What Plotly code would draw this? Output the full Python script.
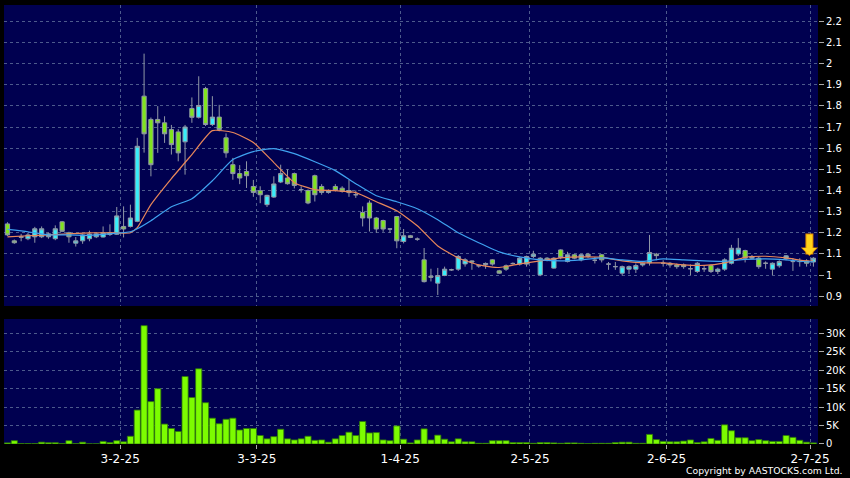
import plotly.graph_objects as go

# ---- data (candle index 0 = first trading day shown) ----
opens = [1.242, 1.162, 1.182, 1.172, 1.181, 1.181, 1.181, 1.172, 1.252, 1.200,
         1.151, 1.162, 1.172, 1.181, 1.180, 1.200, 1.193, 1.230, 1.230, 1.254,
         1.846, 1.736, 1.736, 1.720, 1.688, 1.677, 1.630, 1.788, 1.746, 1.882,
         1.712, 1.747, 1.649, 1.522, 1.480, 1.490, 1.419, 1.399, 1.333, 1.369,
         1.440, 1.459, 1.480, 1.404, 1.400, 1.470, 1.419, 1.391, 1.419, 1.411,
         1.400, 1.380, 1.296, 1.341, 1.270, 1.258, 1.218, 1.277, 1.159, 1.186,
         1.170, 1.072, 0.995, 0.962, 0.998, 1.025, 1.028, 1.053, 1.067, 1.044,
         1.050, 1.072, 1.020, 1.044, 1.055, 1.052, 1.052, 1.088, 1.001, 1.080,
         1.033, 1.119, 1.064, 1.096, 1.072, 1.099, 1.070, 1.096, 1.052, 1.040,
         1.009, 1.028, 1.028, 1.048, 1.058, 1.099, 1.056, 1.056, 1.048, 1.048,
         1.030, 1.017, 1.030, 1.045, 1.017, 1.028, 1.056, 1.100, 1.116, 1.088,
         1.080, 1.056, 1.028, 1.044, 1.077, 1.064, 1.064, 1.067, 1.062]
highs = [1.250, 1.168, 1.195, 1.200, 1.228, 1.230, 1.200, 1.235, 1.256, 1.205,
         1.180, 1.195, 1.210, 1.200, 1.230, 1.240, 1.322, 1.325, 1.333, 1.649,
         2.047, 1.745, 1.799, 1.751, 1.710, 1.690, 1.710, 1.840, 1.940, 1.890,
         1.846, 1.805, 1.670, 1.554, 1.520, 1.538, 1.450, 1.420, 1.380, 1.467,
         1.522, 1.500, 1.485, 1.420, 1.405, 1.475, 1.430, 1.405, 1.430, 1.420,
         1.450, 1.400, 1.325, 1.353, 1.275, 1.262, 1.220, 1.280, 1.218, 1.190,
         1.178, 1.128, 1.030, 1.034, 1.040, 1.030, 1.095, 1.080, 1.070, 1.050,
         1.060, 1.075, 1.025, 1.050, 1.060, 1.085, 1.092, 1.115, 1.085, 1.085,
         1.085, 1.122, 1.110, 1.100, 1.100, 1.105, 1.085, 1.100, 1.062, 1.062,
         1.045, 1.045, 1.055, 1.060, 1.190, 1.105, 1.070, 1.062, 1.055, 1.055,
         1.050, 1.062, 1.045, 1.050, 1.035, 1.080, 1.143, 1.175, 1.120, 1.095,
         1.088, 1.065, 1.060, 1.070, 1.095, 1.080, 1.080, 1.075, 1.085]
lows = [1.185, 1.148, 1.160, 1.165, 1.153, 1.175, 1.172, 1.165, 1.205, 1.153,
        1.135, 1.148, 1.160, 1.175, 1.178, 1.185, 1.190, 1.178, 1.225, 1.250,
        1.579, 1.467, 1.578, 1.625, 1.570, 1.538, 1.475, 1.720, 1.740, 1.705,
        1.705, 1.680, 1.555, 1.451, 1.430, 1.412, 1.370, 1.340, 1.322, 1.365,
        1.435, 1.428, 1.410, 1.390, 1.335, 1.348, 1.380, 1.385, 1.395, 1.390,
        1.370, 1.365, 1.230, 1.206, 1.200, 1.205, 1.200, 1.127, 1.150, 1.175,
        1.162, 0.965, 0.970, 0.906, 0.995, 1.020, 1.020, 1.040, 1.025, 1.035,
        1.030, 1.045, 1.005, 1.020, 1.050, 1.045, 1.040, 1.080, 0.995, 1.065,
        1.030, 1.075, 1.060, 1.075, 1.065, 1.080, 1.055, 1.060, 1.025, 1.025,
        0.998, 1.005, 1.010, 1.040, 1.045, 1.070, 1.040, 1.035, 1.030, 1.030,
        1.000, 1.010, 1.015, 1.010, 1.005, 1.020, 1.050, 1.090, 1.060, 1.075,
        1.030, 1.030, 1.000, 1.035, 1.070, 1.020, 1.040, 1.040, 1.040]
closes = [1.190, 1.153, 1.179, 1.190, 1.219, 1.219, 1.195, 1.219, 1.207, 1.181,
          1.162, 1.190, 1.194, 1.195, 1.200, 1.192, 1.280, 1.218, 1.270, 1.609,
          1.668, 1.522, 1.720, 1.668, 1.617, 1.578, 1.700, 1.746, 1.802, 1.712,
          1.747, 1.688, 1.578, 1.480, 1.459, 1.470, 1.391, 1.380, 1.377, 1.431,
          1.480, 1.432, 1.424, 1.404, 1.341, 1.380, 1.391, 1.399, 1.400, 1.396,
          1.390, 1.380, 1.270, 1.270, 1.218, 1.218, 1.218, 1.162, 1.186, 1.178,
          1.170, 0.969, 0.990, 0.998, 1.028, 1.025, 1.088, 1.072, 1.062, 1.044,
          1.055, 1.052, 1.009, 1.028, 1.055, 1.080, 1.088, 1.099, 1.080, 1.072,
          1.080, 1.083, 1.096, 1.080, 1.096, 1.088, 1.070, 1.072, 1.052, 1.040,
          1.040, 1.040, 1.045, 1.056, 1.107, 1.092, 1.056, 1.048, 1.040, 1.040,
          1.030, 1.056, 1.030, 1.017, 1.028, 1.072, 1.127, 1.127, 1.080, 1.080,
          1.040, 1.056, 1.056, 1.064, 1.091, 1.064, 1.064, 1.056, 1.080]
volume_k = [0.3, 0.9, 0.1, 0.1, 0.1, 0.5, 0.35, 0.35, 0.1, 0.9,
            0.1, 0.5, 0.05, 0.05, 0.7, 0.4, 0.9, 0.6, 2.1, 9.2,
            32.1, 11.5, 15.0, 5.4, 4.2, 3.4, 18.3, 12.6, 20.4, 11.2,
            7.0, 5.5, 6.7, 7.0, 3.8, 4.2, 4.2, 2.3, 1.4, 2.0,
            4.0, 1.4, 1.1, 1.4, 2.1, 1.0, 1.1, 0.5, 1.4, 2.3,
            3.2, 2.3, 6.1, 3.0, 3.1, 1.1, 0.9, 4.9, 1.3, 0.3,
            1.1, 4.1, 1.1, 2.4, 1.3, 0.6, 1.4, 0.6, 0.6, 0.2,
            0.2, 0.9, 0.9, 0.9, 0.4, 0.4, 0.4, 0.2, 0.4, 0.4,
            0.3, 0.2, 0.3, 0.3, 0.2, 0.1, 0.2, 0.2, 0.2, 0.4,
            0.5, 0.5, 0.2, 0.2, 2.6, 1.2, 0.7, 0.6, 0.6, 0.8,
            1.1, 0.4, 0.6, 1.5, 1.0, 5.2, 3.6, 1.7, 1.7, 0.9,
            1.2, 0.9, 0.7, 0.7, 2.3, 1.8, 1.0, 0.5, 0.3]

# moving-average lines, read at every third candle
ma_idx = [0, 3, 6, 9, 12, 15, 18, 19, 21, 24, 27, 30, 33, 36, 39, 42, 45, 48, 51, 54,
          57, 60, 63, 66, 69, 72, 75, 78, 81, 84, 87, 90, 93, 96, 99, 102, 105, 108,
          111, 114, 117, 118]
ma_fast = [1.181, 1.186, 1.190, 1.195, 1.200, 1.200, 1.200, 1.224, 1.333, 1.456,
           1.570, 1.683, 1.674, 1.627, 1.532, 1.437, 1.404, 1.399, 1.390, 1.347,
           1.304, 1.233, 1.138, 1.081, 1.048, 1.036, 1.053, 1.067, 1.081, 1.086,
           1.084, 1.067, 1.058, 1.058, 1.048, 1.046, 1.058, 1.084, 1.089, 1.081,
           1.067, 1.067]
ma_slow = [1.216, 1.205, 1.190, 1.190, 1.188, 1.195, 1.205, 1.219, 1.257, 1.323,
           1.361, 1.446, 1.546, 1.584, 1.598, 1.574, 1.536, 1.494, 1.432, 1.375,
           1.347, 1.314, 1.262, 1.200, 1.153, 1.110, 1.086, 1.072, 1.067, 1.072,
           1.081, 1.072, 1.065, 1.077, 1.072, 1.067, 1.065, 1.074, 1.077, 1.072,
           1.063, 1.063]

date_labels = ["3-2-25", "3-3-25", "1-4-25", "2-5-25", "2-6-25", "2-7-25"]
date_idx = [17, 37, 58, 77, 97, 118]          # candle index of each labelled date
price_ticks = [0.9, 1.0, 1.1, 1.2, 1.3, 1.4, 1.5, 1.6, 1.7, 1.8, 1.9, 2.0, 2.1, 2.2]
price_labels = ["0.9", "1", "1.1", "1.2", "1.3", "1.4", "1.5", "1.6", "1.7", "1.8",
                "1.9", "2", "2.1", "2.2"]
vol_ticks = [0, 5, 10, 15, 20, 25, 30]
vol_labels = ["0", "5K", "10K", "15K", "20K", "25K", "30K"]

x = list(range(len(closes)))
grid_pos = [i - 0.5 for i in date_idx]
n = len(closes)
xr = [-0.51, n - 0.33]

GRID = "#4d5a8c"
BG = "#000050"
WICK = "#9098a6"

fig = go.Figure()
fig.add_trace(go.Candlestick(
    x=x, open=opens, high=highs, low=lows, close=closes,
    increasing=dict(line=dict(color=WICK, width=1), fillcolor="#38eefa"),
    decreasing=dict(line=dict(color=WICK, width=1), fillcolor="#80e41e"),
    xaxis="x", yaxis="y", showlegend=False, hoverinfo="skip"))
fig.add_trace(go.Scatter(x=ma_idx, y=ma_fast, mode="lines",
                         line=dict(color="#e8875a", width=1.2, shape="spline", smoothing=0.5),
                         xaxis="x", yaxis="y", showlegend=False, hoverinfo="skip"))
fig.add_trace(go.Scatter(x=ma_idx, y=ma_slow, mode="lines",
                         line=dict(color="#3fa2f0", width=1.2, shape="spline", smoothing=0.5),
                         xaxis="x", yaxis="y", showlegend=False, hoverinfo="skip"))
fig.add_trace(go.Bar(x=x, y=volume_k, width=0.9,
                     marker=dict(color="#7cfc00", line=dict(color="#2f7a08", width=0.8)),
                     xaxis="x2", yaxis="y2", showlegend=False, hoverinfo="skip"))

axis_common = dict(showgrid=True, gridcolor=GRID, griddash="3px,3px", gridwidth=1,
                   zeroline=False, showline=False)

fig.update_layout(
    width=850, height=478,
    margin=dict(l=4, r=32, t=5, b=34),
    paper_bgcolor="#000000", plot_bgcolor=BG,
    showlegend=False, boxgap=0.12, bargap=0.1,
    font=dict(family="DejaVu Sans", color="#ffffff", size=10),
    xaxis=dict(domain=[0, 1], anchor="y", range=xr, tickmode="array", tickvals=grid_pos,
               showticklabels=False, ticks="", rangeslider=dict(visible=False), **axis_common),
    xaxis2=dict(domain=[0, 1], anchor="y2", range=xr, tickmode="array", tickvals=grid_pos,
                ticktext=date_labels, ticks="outside", ticklen=4, tickcolor="#aaaaaa",
                tickfont=dict(size=12, color="#ffffff"), **axis_common),
    yaxis=dict(domain=[0.3144, 1], side="right", anchor="x", range=[0.854, 2.277],
               tickmode="array", tickvals=price_ticks, ticktext=price_labels,
               ticks="outside", ticklen=5, tickcolor="#aaaaaa", **axis_common),
    yaxis2=dict(domain=[0, 0.2847], side="right", anchor="x2", range=[0, 33.9],
                tickmode="array", tickvals=vol_ticks, ticktext=vol_labels,
                ticks="outside", ticklen=5, tickcolor="#aaaaaa", **axis_common),
)

# latest-candle marker arrow (orange outline under yellow arrow)
fig.add_annotation(x=x[-1], y=highs[-1], xref="x", yref="y", text="", showarrow=True,
                   ax=0, ay=-24, arrowhead=1, arrowwidth=8, arrowsize=0.36,
                   arrowcolor="#e08a00", xshift=-4, yshift=1)
fig.add_annotation(x=x[-1], y=highs[-1], xref="x", yref="y", text="", showarrow=True,
                   ax=0, ay=-22, arrowhead=1, arrowwidth=6, arrowsize=0.4,
                   arrowcolor="#ffd21a", xshift=-4, yshift=2)

fig.add_annotation(text="Copyright by AASTOCKS.com Ltd.", xref="paper", yref="paper",
                   x=1.033, y=-0.0615, xanchor="right", yanchor="middle", showarrow=False,
                   font=dict(family="DejaVu Sans", size=9.3, color="#ffffff"))

fig.write_html("out.html", config={"displayModeBar": False},
               post_script="document.body.style.margin='0';document.body.style.background='#000';")
